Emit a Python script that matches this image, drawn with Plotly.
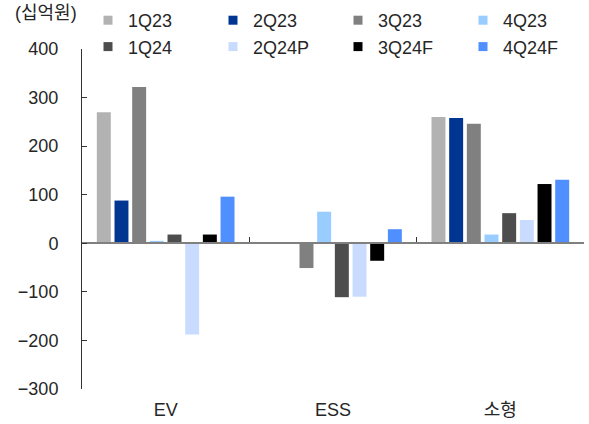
import plotly.graph_objects as go

# Segment categories and quarterly operating profit (unit: 십억원)
categories = ["EV", "ESS", "소형"]
quarters = ["1Q23", "2Q23", "3Q23", "4Q23", "1Q24", "2Q24P", "3Q24F", "4Q24F"]
colors = ["#b2b2b2", "#003592", "#808080", "#99ccff",
          "#4d4d4d", "#c9dbff", "#000000", "#4f8fff"]

q1_23 = [270, 2, 260]
q2_23 = [88, 2, 258]
q3_23 = [322, -51, 246]
q4_23 = [5, 65, 18]
q1_24 = [18, -111, 62]
q2_24p = [-188, -110, 48]
q3_24f = [18, -36, 122]
q4_24f = [96, 29, 131]

series = [q1_23, q2_23, q3_23, q4_23, q1_24, q2_24p, q3_24f, q4_24f]

y_ticks = [-300, -200, -100, 0, 100, 200, 300, 400]
y_range = [-300, 400]

FONT = "Liberation Sans, Arial, Noto Sans CJK KR, sans-serif"
TEXT_COLOR = "#262626"

W, H = 589, 424
M_L, M_R, M_B = 82, 5, 35
PAPER_H = H - M_B           # paper area reaches the top edge of the figure
PAPER_W = W - M_L - M_R
PLOT_TOP = 49               # value axis starts this far below the top
y_domain_top = (PAPER_H - PLOT_TOP) / PAPER_H
zero_frac = y_domain_top * (0 - y_range[0]) / (y_range[1] - y_range[0])

fig = go.Figure()

for name, color, values in zip(quarters, colors, series):
    fig.add_trace(go.Bar(
        x=categories, y=values, name=name,
        marker=dict(color=color, line=dict(width=0)),
        showlegend=False,
    ))

# Small square legend keys
for name, color in zip(quarters, colors):
    fig.add_trace(go.Scatter(
        x=[categories[0]], y=[None], name=name, mode="markers",
        marker=dict(symbol="square", size=9, color=color),
        hoverinfo="skip",
    ))

fig.update_layout(
    width=W, height=H,
    margin=dict(l=M_L, r=M_R, t=0, b=M_B, autoexpand=False),
    paper_bgcolor="white", plot_bgcolor="white",
    font=dict(family=FONT, size=18, color=TEXT_COLOR),
    barmode="group", bargap=0.155, bargroupgap=0.21,
    showlegend=True,
    legend=dict(
        orientation="h",
        x=(88 - M_L) / PAPER_W, y=1 - 2 / PAPER_H,
        xanchor="left", yanchor="top",
        entrywidth=80, entrywidthmode="pixels",
        traceorder="normal",
        font=dict(family=FONT, size=18, color=TEXT_COLOR),
        bgcolor="rgba(0,0,0,0)",
        itemclick=False,
    ),
    annotations=[dict(
        text="(십억원)", xref="paper", yref="paper",
        x=(13 - M_L) / PAPER_W, y=(PAPER_H - 13) / PAPER_H,
        xanchor="left", yanchor="middle",
        showarrow=False, font=dict(family=FONT, size=18, color=TEXT_COLOR),
    )],
)

# Category axis drawn along the zero line, labels pushed to the bottom
fig.update_xaxes(
    type="category",
    anchor="free", position=zero_frac,
    showline=True, linecolor="#808080", linewidth=2,
    ticks="inside", ticklen=5, tickwidth=1, tickcolor="#333333",
    tickson="boundaries",
    ticklabelstandoff=150,
    showgrid=False, zeroline=False,
    tickfont=dict(family=FONT, size=18, color=TEXT_COLOR),
)

fig.update_yaxes(
    domain=[0, y_domain_top],
    range=y_range, tickvals=y_ticks,
    showline=True, linecolor="#333333", linewidth=1,
    ticks="inside", ticklen=5, tickwidth=1, tickcolor="#333333",
    ticklabelstandoff=19,
    showgrid=False, zeroline=False,
    tickfont=dict(family=FONT, size=18, color=TEXT_COLOR),
)

fig.write_html("out.html")
